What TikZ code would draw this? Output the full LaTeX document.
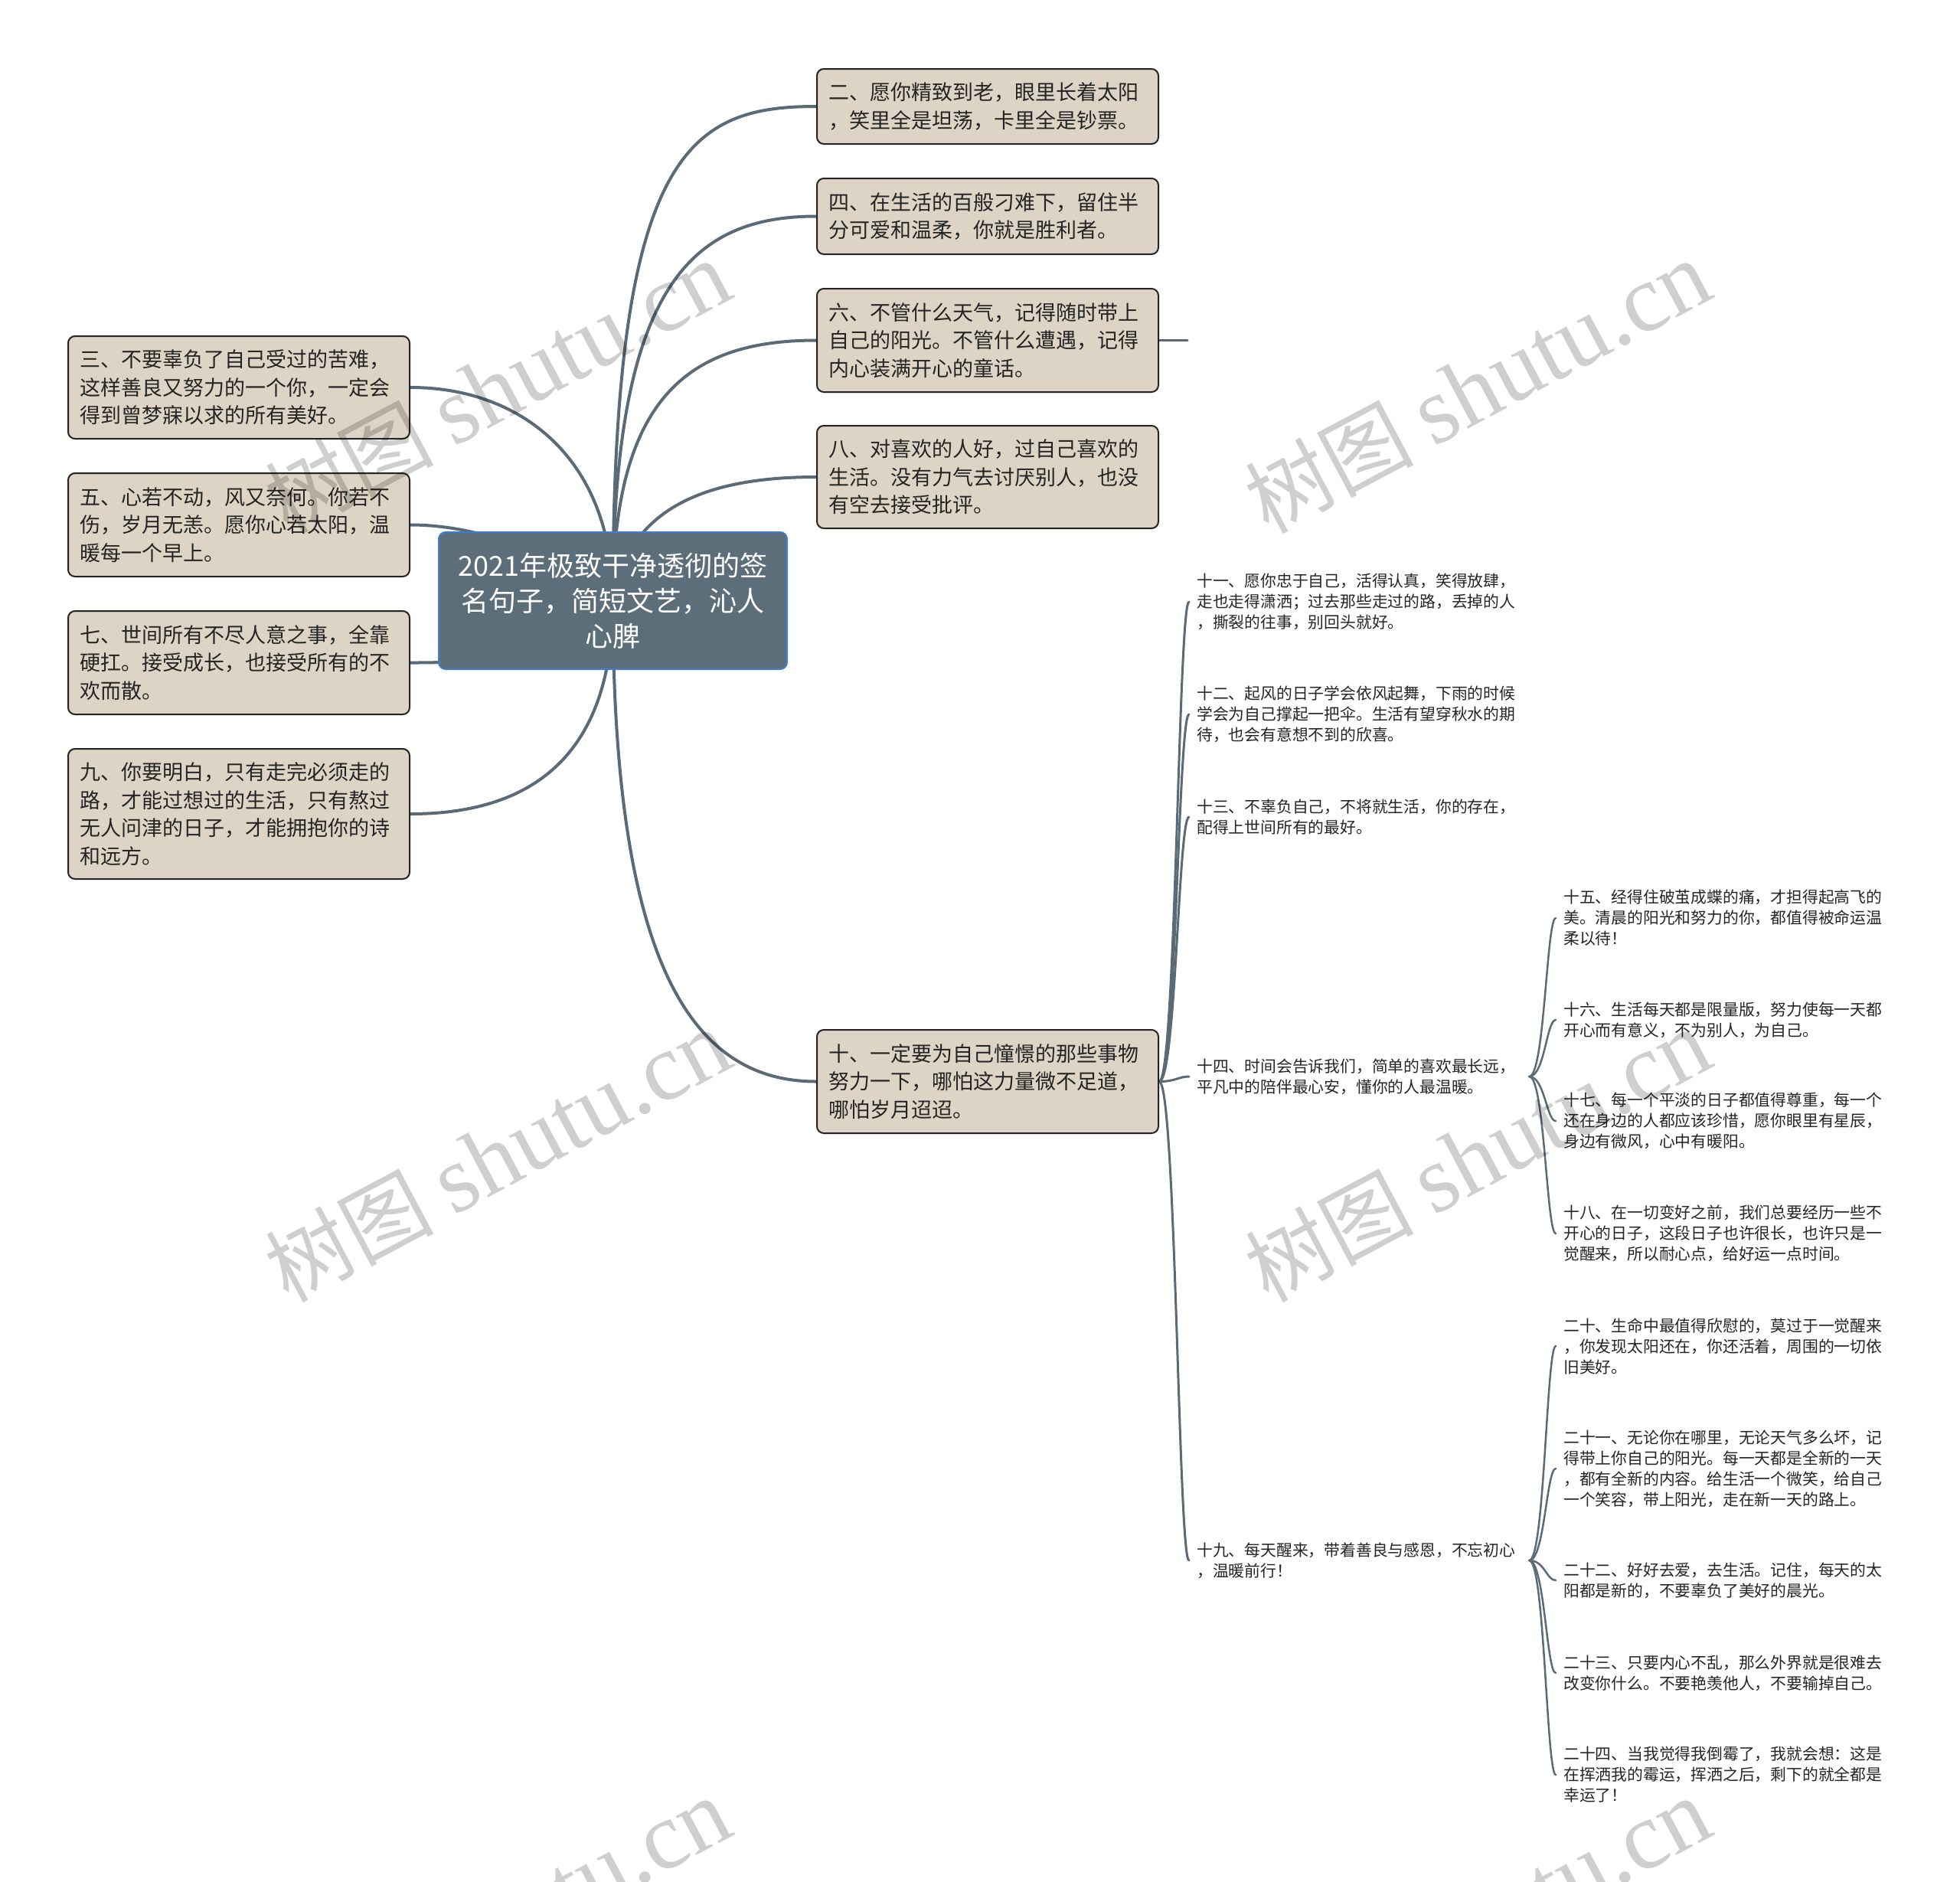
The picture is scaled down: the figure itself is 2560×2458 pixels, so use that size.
\documentclass[tikz,border=0pt]{standalone}
\usepackage{fontspec}
\setmainfont{Noto Sans CJK SC}
\newfontfamily\wmlatin{Liberation Serif}
\usetikzlibrary{calc}
\pgfdeclarelayer{background}
\pgfdeclarelayer{foreground}
\pgfsetlayers{background,main,foreground}
\definecolor{conn}{RGB}{90,106,118}
\definecolor{beige}{RGB}{221,212,197}
\definecolor{rootfill}{RGB}{93,110,123}
\definecolor{rootedge}{RGB}{66,124,206}
\definecolor{ink}{RGB}{36,36,36}
\begin{document}
\begin{tikzpicture}[x=1pt,y=-1pt,
  lvlone/.style={draw=ink, fill=beige, line width=2pt, rounded corners=9pt, text=ink,
    align=left, text width=416pt, inner xsep=15pt, inner ysep=0pt,
    font=\fontsize{27}{36.5}\selectfont},
  rootbox/.style={draw=rootedge, fill=rootfill, line width=2pt, rounded corners=9pt,
    text=white, align=center, text width=415pt, inner xsep=20pt, inner ysep=0pt,
    minimum height=179pt, font=\fontsize{36}{46}\selectfont},
  lvltwo/.style={anchor=west, text=ink, align=left, text width=424pt, inner xsep=10pt,
    inner ysep=3pt, font=\fontsize{20.8}{27}\selectfont},
  cone/.style={draw=conn, line width=4pt, line cap=round},
  ctwo/.style={draw=conn, line width=3pt, line cap=round},
  cthree/.style={draw=conn, line width=2.5pt, line cap=round},
  wm/.style={rotate=28, text=black, text opacity=0.19, inner sep=0pt,
    font=\fontsize{110}{110}\selectfont}
]
\clip (0,0) rectangle (2560,2458);

% central node
\node[rootbox] (root) at (800.5,784.5) {2021年极致干净透彻的签\\名句子，简短文艺，沁人\\心脾};

% right level-1 boxes
\node[lvlone, minimum height=98pt] (n2) at (1290,139) {二、愿你精致到老，眼里长着太阳\\，笑里全是坦荡，卡里全是钞票。};
\node[lvlone, minimum height=99pt] (n4) at (1290,282.5) {四、在生活的百般刁难下，留住半\\分可爱和温柔，你就是胜利者。};
\node[lvlone, minimum height=135pt] (n6) at (1290,444.5) {六、不管什么天气，记得随时带上\\自己的阳光。不管什么遭遇，记得\\内心装满开心的童话。};
\node[lvlone, minimum height=134pt] (n8) at (1290,623) {八、对喜欢的人好，过自己喜欢的\\生活。没有力气去讨厌别人，也没\\有空去接受批评。};
\node[lvlone, minimum height=135pt] (n10) at (1290,1412.5) {十、一定要为自己憧憬的那些事物\\努力一下，哪怕这力量微不足道，\\哪怕岁月迢迢。};

% left level-1 boxes
\node[lvlone, minimum height=134pt] (n3) at (312,506) {三、不要辜负了自己受过的苦难，\\这样善良又努力的一个你，一定会\\得到曾梦寐以求的所有美好。};
\node[lvlone, minimum height=135pt] (n5) at (312,685.5) {五、心若不动，风又奈何。你若不\\伤，岁月无恙。愿你心若太阳，温\\暖每一个早上。};
\node[lvlone, minimum height=135pt] (n7) at (312,865.5) {七、世间所有不尽人意之事，全靠\\硬扛。接受成长，也接受所有的不\\欢而散。};
\node[lvlone, minimum height=170pt] (n9) at (312,1063) {九、你要明白，只有走完必须走的\\路，才能过想过的生活，只有熬过\\无人问津的日子，才能拥抱你的诗\\和远方。};

% level-2 texts
\node[lvltwo] (n11) at (1553,786) {十一、愿你忠于自己，活得认真，笑得放肆，\\走也走得潇洒；过去那些走过的路，丢掉的人\\，撕裂的往事，别回头就好。};
\node[lvltwo] (n12) at (1553,933) {十二、起风的日子学会依风起舞，下雨的时候\\学会为自己撑起一把伞。生活有望穿秋水的期\\待，也会有意想不到的欣喜。};
\node[lvltwo] (n13) at (1553,1067) {十三、不辜负自己，不将就生活，你的存在，\\配得上世间所有的最好。};
\node[lvltwo] (n14) at (1553,1406) {十四、时间会告诉我们，简单的喜欢最长远，\\平凡中的陪伴最心安，懂你的人最温暖。};
\node[lvltwo] (n19) at (1553,2038) {十九、每天醒来，带着善良与感恩，不忘初心\\，温暖前行！};

% level-3 texts
\node[lvltwo] (n15) at (2032,1199) {十五、经得住破茧成蝶的痛，才担得起高飞的\\美。清晨的阳光和努力的你，都值得被命运温\\柔以待！};
\node[lvltwo] (n16) at (2032,1332) {十六、生活每天都是限量版，努力使每一天都\\开心而有意义，不为别人，为自己。};
\node[lvltwo] (n17) at (2032,1464) {十七、每一个平淡的日子都值得尊重，每一个\\还在身边的人都应该珍惜，愿你眼里有星辰，\\身边有微风，心中有暖阳。};
\node[lvltwo] (n18) at (2032,1611) {十八、在一切变好之前，我们总要经历一些不\\开心的日子，这段日子也许很长，也许只是一\\觉醒来，所以耐心点，给好运一点时间。};
\node[lvltwo] (n20) at (2032,1758) {二十、生命中最值得欣慰的，莫过于一觉醒来\\，你发现太阳还在，你还活着，周围的一切依\\旧美好。};
\node[lvltwo] (n21) at (2032,1918) {二十一、无论你在哪里，无论天气多么坏，记\\得带上你自己的阳光。每一天都是全新的一天\\，都有全新的内容。给生活一个微笑，给自己\\一个笑容，带上阳光，走在新一天的路上。};
\node[lvltwo] (n22) at (2032,2064) {二十二、好好去爱，去生活。记住，每天的太\\阳都是新的，不要辜负了美好的晨光。};
\node[lvltwo] (n23) at (2032,2185) {二十三、只要内心不乱，那么外界就是很难去\\改变你什么。不要艳羡他人，不要输掉自己。};
\node[lvltwo] (n24) at (2032,2318) {二十四、当我觉得我倒霉了，我就会想：这是\\在挥洒我的霉运，挥洒之后，剩下的就全都是\\幸运了！};

\coordinate (s6) at (1551,444.5);

\begin{pgfonlayer}{background}
  % level-1 connectors
  \draw[cone] (root.center) .. controls +(0,-585) and +(-167,0) .. (n2.west);
  \draw[cone] (root.center) .. controls +(0,-405) and +(-167,0) .. (n4.west);
  \draw[cone] (root.center) .. controls +(0,-265) and +(-167,0) .. (n6.west);
  \draw[cone] (root.center) .. controls +(20,-125) and +(-137,0) .. (n8.west);
  \draw[cone] (root.center) .. controls +(0,465) and +(-167,0) .. (n10.west);
  \draw[cone] (root.center) .. controls +(0,-185) and +(145,0) .. (n3.east);
  \draw[cone] (root.center) .. controls +(-80,-65) and +(85,0) .. (n5.east);
  \draw[cone] (root.center) .. controls +(-100,81) and +(65,0) .. (n7.east);
  \draw[cone] (root.center) .. controls +(0,215) and +(145,0) .. (n9.east);
  \draw[ctwo] (n6.east) -- (s6);
  % level-2 connectors
  \foreach \t in {n11,n12,n13,n14,n19}
    \draw[ctwo] (n10.east) .. controls +(22,0) and +(-14,0) .. (\t.west);
  % level-3 connectors
  \foreach \t in {n15,n16,n17,n18}
    \draw[cthree] (n14.east) .. controls +(20,0) and +(-12,0) .. (\t.west);
  \foreach \t in {n20,n21,n22,n23,n24}
    \draw[cthree] (n19.east) .. controls +(20,0) and +(-12,0) .. (\t.west);
\end{pgfonlayer}

% watermarks
\begin{pgfonlayer}{foreground}
  \node[wm] (w1) at (650,506) {树图 {\wmlatin\fontsize{125}{125}\selectfont shutu.cn}};
  \node[wm] (w2) at (1930,506) {树图 {\wmlatin\fontsize{125}{125}\selectfont shutu.cn}};
  \node[wm] (w3) at (650,1510) {树图 {\wmlatin\fontsize{125}{125}\selectfont shutu.cn}};
  \node[wm] (w4) at (1930,1510) {树图 {\wmlatin\fontsize{125}{125}\selectfont shutu.cn}};
  \node[wm] (w5) at (650,2514) {树图 {\wmlatin\fontsize{125}{125}\selectfont shutu.cn}};
  \node[wm] (w6) at (1930,2514) {树图 {\wmlatin\fontsize{125}{125}\selectfont shutu.cn}};
\end{pgfonlayer}
\end{tikzpicture}
\end{document}
